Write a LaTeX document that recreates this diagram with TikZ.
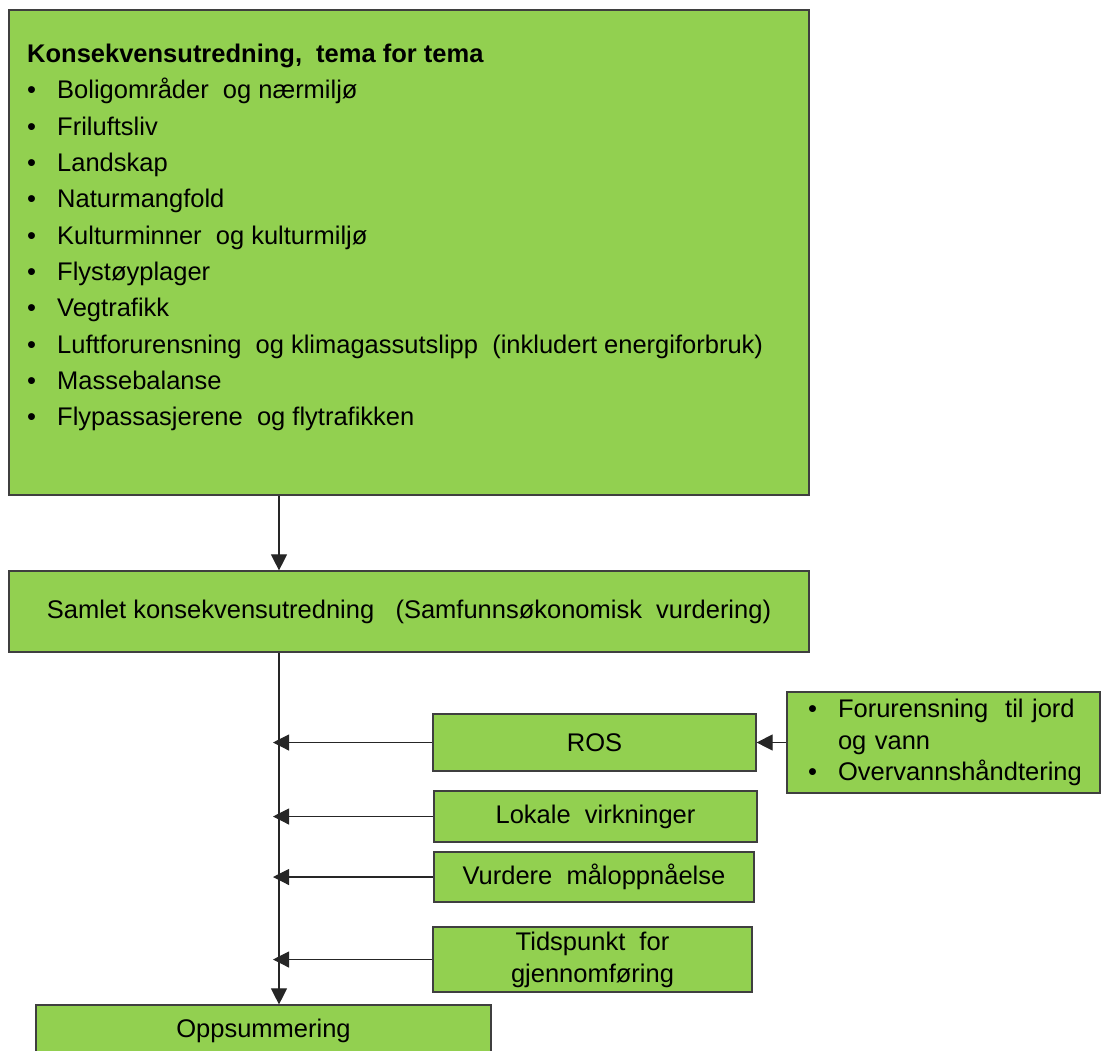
\documentclass[tikz,border=0pt]{standalone}
\usepackage{fontspec}
\setmainfont{Liberation Sans}
\usetikzlibrary{arrows.meta}
\definecolor{boxgreen}{HTML}{92D050}
\definecolor{boxline}{HTML}{3F3F3F}
\tikzset{
  greenbox/.style={rectangle,draw=boxline,line width=1.2pt,fill=boxgreen,inner sep=0pt,
    font=\fontsize{25.5}{32}\selectfont,align=center},
  arr/.style={draw=black!85,line width=1.1pt,-{Triangle[length=16pt,width=16pt]}}
}
\newcommand{\bul}{\makebox[30pt][l]{\textbullet}}
\begin{document}
\begin{tikzpicture}[x=1pt,y=-1pt]
  \useasboundingbox (0,0) rectangle (1102,1050);
  \node[greenbox,minimum width=800pt,minimum height=485pt] (tema) at (409,252.5) {};
  \node[anchor=north west,inner sep=0pt,align=left,font=\fontsize{25.5}{36.3}\selectfont] (temaliste) at (27,44)
    {\textbf{Konsekvensutredning,\ \ tema for tema}\\
     \bul Boligområder\ \ og nærmiljø\\
     \bul Friluftsliv\\
     \bul Landskap\\
     \bul Naturmangfold\\
     \bul Kulturminner\ \ og kulturmiljø\\
     \bul Flystøyplager\\
     \bul Vegtrafikk\\
     \bul Luftforurensning\ \ og klimagassutslipp\ \ (inkludert energiforbruk)\\
     \bul Massebalanse\\
     \bul Flypassasjerene\ \ og flytrafikken};
  \node[greenbox,minimum width=800pt,minimum height=81pt] (samlet) at (409,611.5)
    {Samlet konsekvensutredning\ \ \ (Samfunnsøkonomisk\ \ vurdering)};
  \node[greenbox,minimum width=323pt,minimum height=57pt] (ros) at (594.5,742.5) {ROS};
  \node[greenbox,minimum width=323pt,minimum height=51pt] (lokale) at (595.5,816.5) {Lokale\ \ virkninger};
  \node[greenbox,minimum width=320pt,minimum height=50pt] (maal) at (594,877) {Vurdere\ \ måloppnåelse};
  \node[greenbox,minimum width=319pt,minimum height=65pt] (tid) at (592.5,959.5) {Tidspunkt\ \ for\\gjennomføring};
  \node[greenbox,minimum width=455pt,minimum height=52pt] (opp) at (263.5,1031) {Oppsummering};
  \node[greenbox,minimum width=313pt,minimum height=101pt,text width=271pt,align=left,
        font=\fontsize{25.5}{31.5}\selectfont] (forur) at (943.5,742.5)
    {\bul Forurensning\ \ til jord\\\hspace*{30pt}og vann\\\bul Overvannshåndtering};
  \coordinate (spine) at (279,0);
  \coordinate (spinetip) at (273,0);
  \draw[arr] (spine |- tema.south) -- (spine |- samlet.north);
  \draw[arr] (spine |- samlet.south) -- (spine |- opp.north);
  \draw[arr] (ros.west) -- (ros.west -| spinetip);
  \draw[arr] (lokale.west) -- (lokale.west -| spinetip);
  \draw[arr] (maal.west) -- (maal.west -| spinetip);
  \draw[arr] (tid.west) -- (tid.west -| spinetip);
  \draw[arr] (forur.west) -- (ros.east);
\end{tikzpicture}
\end{document}
